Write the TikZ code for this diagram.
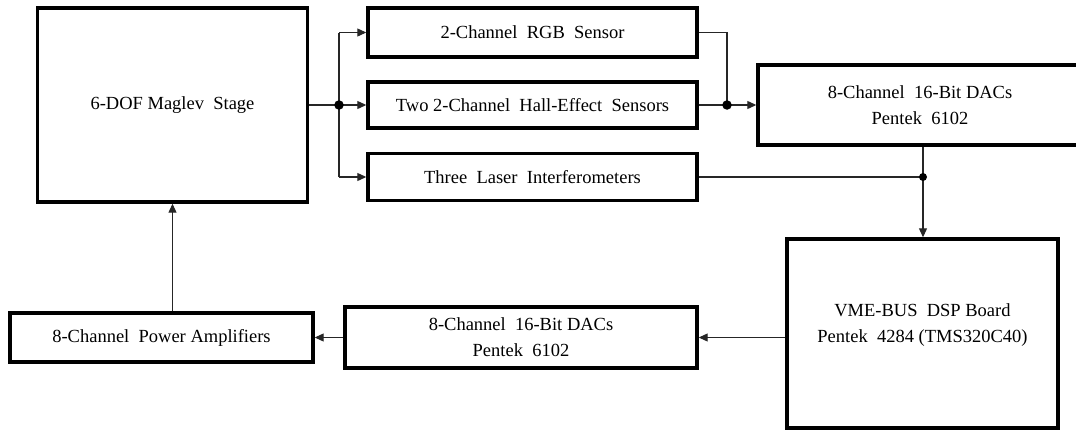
\documentclass[tikz,border=0pt]{standalone}
\usepackage{fontspec}
\setmainfont{Liberation Serif}
\usetikzlibrary{arrows.meta}
\begin{document}
\begin{tikzpicture}[x=1pt,y=-1pt,
  blk/.style={draw=black,line width=3.4pt,fill=white,inner sep=0pt,align=center,
    font=\fontsize{18.5}{26}\selectfont},
  txt/.style={inner sep=0pt,align=center,font=\fontsize{18.5}{26}\selectfont},
  conn/.style={line width=1.1pt,draw=black!85},
  arr/.style={conn,-{Triangle[length=9pt,width=8pt]}},
  jdot/.style={circle,fill=black,inner sep=0pt,minimum size=9.5pt}]
\useasboundingbox (0,0) rectangle (1076,431);
\clip (0,0) rectangle (1076,431);
% boxes
\node[blk,minimum width=270pt,minimum height=194pt] (maglev) at (172.5,105) {6-DOF Maglev\ \ Stage};
\node[blk,minimum width=329pt,minimum height=49pt] (rgb) at (532.5,32.5) {2-Channel\ \ RGB\ \ Sensor};
\node[blk,minimum width=329pt,minimum height=46pt] (hall) at (532.5,105) {Two 2-Channel\ \ Hall-Effect\ \ Sensors};
\node[blk,minimum width=329pt,minimum height=47pt] (laser) at (532.5,177) {Three\ \ Laser\ \ Interferometers};
\node[blk,minimum width=324pt,minimum height=80pt] (dac1) at (920,105) {8-Channel\ \ 16-Bit DACs\\Pentek\ \ 6102};
\node[blk,minimum width=271pt,minimum height=189pt] (dsp) at (922.5,333.5) {};
\node[txt] (dsptext) at ([yshift=8.5pt]dsp.center) {VME-BUS\ \ DSP Board\\Pentek\ \ 4284 (TMS320C40)};
\node[blk,minimum width=352pt,minimum height=61pt] (dac2) at (521,337.5) {8-Channel\ \ 16-Bit DACs\\Pentek\ \ 6102};
\node[blk,minimum width=303pt,minimum height=49pt] (power) at (161.5,337.5) {8-Channel\ \ Power Amplifiers};
% junctions
\coordinate (j1) at (339,105);
\coordinate (j2) at (727,105);
\coordinate (j3) at (923,177);
% connectors
\draw[conn] (maglev.east) -- (j1);
\draw[conn] (j1 |- rgb.west) -- (j1 |- laser.west);
\draw[arr] (j1 |- rgb.west) -- (rgb.west);
\draw[arr] (j1) -- (hall.west);
\draw[arr] (j1 |- laser.west) -- (laser.west);
\draw[conn] (rgb.east) -| (j2);
\draw[conn] (hall.east) -- (j2);
\draw[arr] (j2) -- (dac1.west);
\draw[conn] (laser.east) -- (j3);
\draw[conn] (j3 |- dac1.south) -- (j3);
\draw[arr] (j3) -- (j3 |- dsp.north);
\draw[arr] (dsp.west |- dac2.east) -- (dac2.east);
\draw[arr] (dac2.west) -- (power.east);
\draw[arr] (maglev.south |- power.north) -- (maglev.south);
% dots
\node[jdot] (d1) at (j1) {};
\node[jdot] (d2) at (j2) {};
\node[jdot,minimum size=8pt] (d3) at (j3) {};
\end{tikzpicture}
\end{document}
